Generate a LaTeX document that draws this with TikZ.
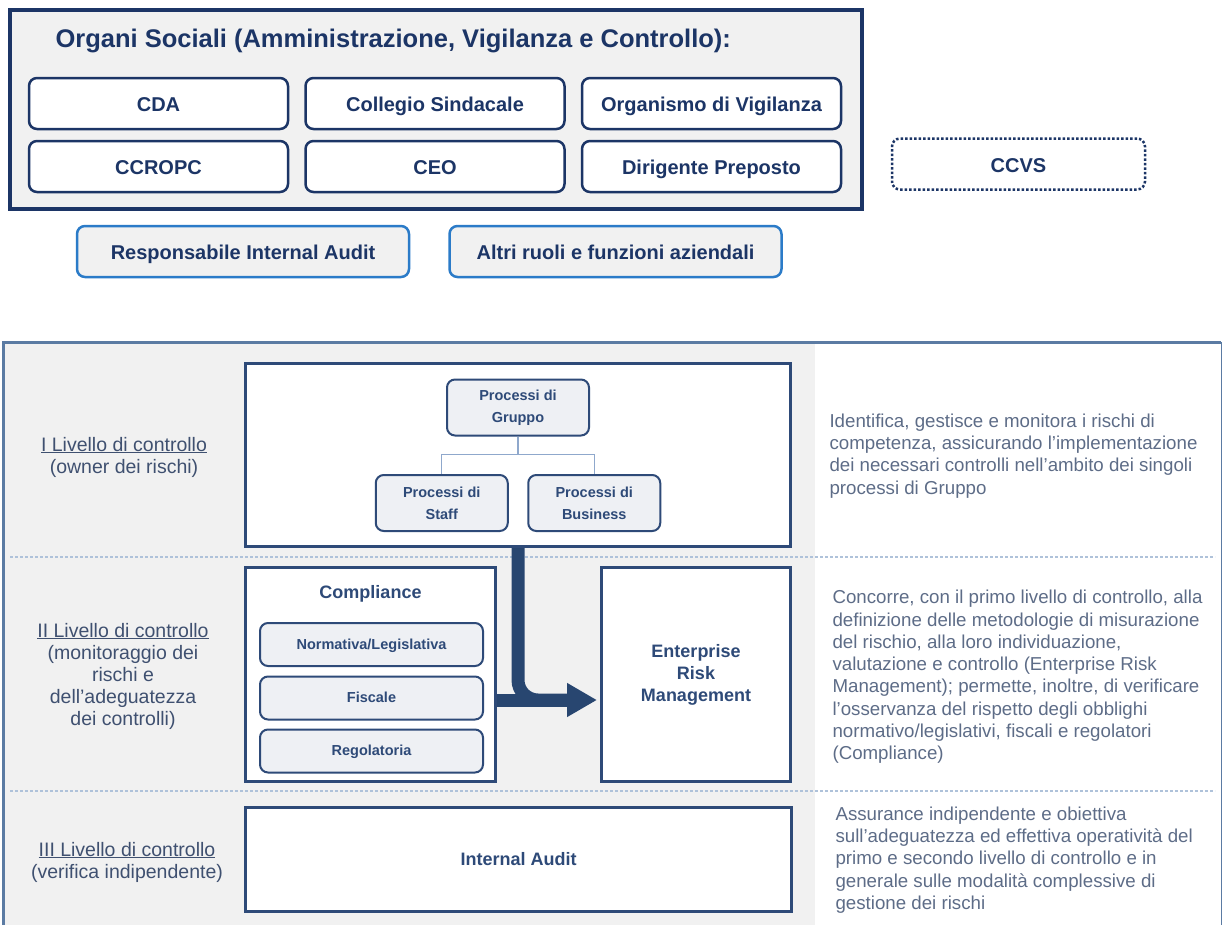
\documentclass[tikz,border=0pt]{standalone}
\usepackage{fontspec}
\setmainfont{Liberation Sans}
\usetikzlibrary{positioning,arrows.meta}

\definecolor{navy}{HTML}{1C3566}
\definecolor{slate}{HTML}{2E4A78}
\definecolor{panelgray}{HTML}{F1F1F1}
\definecolor{auditblue}{HTML}{2B7BC8}
\definecolor{frameblue}{HTML}{5B7BA3}
\definecolor{labeltext}{HTML}{3F5070}
\definecolor{notetext}{HTML}{5D6C87}
\definecolor{procfill}{HTML}{EEF0F4}
\definecolor{sepblue}{HTML}{AFC2DA}
\definecolor{treeline}{HTML}{8FA8CC}
\definecolor{arrowblue}{HTML}{284670}

\begin{document}
\begin{tikzpicture}[x=1pt, y=1pt,
		orgbox/.style = {shape=rectangle, rounded corners=8pt, draw=navy,
			line width=2.5pt, fill=white, minimum width=259pt, minimum height=51pt,
			text height=17.5pt, text depth=1.5pt,
			text=navy, font=\fontsize{20}{24}\selectfont\bfseries},
		rolebox/.style = {orgbox, draw=auditblue, fill=panelgray, minimum width=332pt},
		levelbox/.style = {shape=rectangle, draw=slate, line width=3pt, fill=white,
			text=slate, font=\fontsize{18}{22}\selectfont\bfseries, align=center},
		procbox/.style = {shape=rectangle, rounded corners=8pt, draw=slate,
			line width=2pt, fill=procfill, minimum width=132pt, minimum height=56pt,
			text=slate, align=center, font=\fontsize{14.5}{22}\selectfont\bfseries},
		subbox/.style = {procbox, minimum width=223pt, minimum height=43pt,
			text height=11.5pt, text depth=2pt},
		levellabel/.style = {align=center, text=labeltext,
			font=\fontsize{19.5}{22}\selectfont},
		note/.style = {anchor=west, align=left, text=notetext,
			font=\fontsize{18.7}{22.3}\selectfont},
		sepline/.style = {draw=sepblue, line width=1.2pt, dash pattern=on 3pt off 2pt},
		bigshaft/.style = {draw=arrowblue, line width=13pt},
		bigarrow/.style = {bigshaft, rounded corners=20pt,
			-{Triangle[length=30pt,width=32pt]}}]
	\useasboundingbox (0,0) rectangle (1223,-924);

	% organi sociali
	\node[shape=rectangle, draw=navy, line width=4pt, fill=panelgray,
		minimum width=852pt, minimum height=199pt] (organi) at (435.5,-109.5) {};
	\node[anchor=west, text=navy, font=\fontsize{25.5}{30}\selectfont\bfseries]
		(titolo) at (52,-41) {Organi Sociali (Amministrazione, Vigilanza e Controllo):};
	\node[orgbox] (cda) at (158.5,-103.5) {CDA};
	\node[orgbox, right=15pt of cda] (collegio) {Collegio Sindacale};
	\node[orgbox, right=15pt of collegio] (odv) {Organismo di Vigilanza};
	\node[orgbox] (ccropc) at (158.5,-166.5) {CCROPC};
	\node[orgbox, right=15pt of ccropc] (ceo) {CEO};
	\node[orgbox, right=15pt of ceo] (preposto) {Dirigente Preposto};
	\node[orgbox, dotted, minimum width=253pt] (ccvs) at (1018.5,-164) {CCVS};
	\node[rolebox] (resp) at (243,-251.5) {Responsabile Internal Audit};
	\node[rolebox] (altri) at (615.5,-251.5) {Altri ruoli e funzioni aziendali};

	% livelli di controllo
	\fill[panelgray] (3,-342) rectangle (815,-930);
	\draw[frameblue, line width=3pt] (3,-930) |- (1221,-342);
	\draw[frameblue, line width=1pt] (1221,-342) -- (1221,-930);
	\draw[sepline] (10,-557) -- (1215,-557);
	\draw[sepline] (10,-791) -- (1215,-791);

	\node[levellabel] (lvlonetxt) at (124,-457)
		{\underline{I Livello di controllo}\\(owner dei rischi)};
	\node[levellabel] (lvltwotxt) at (123,-676)
		{\underline{II Livello di controllo}\\(monitoraggio dei\\rischi e\\dell’adeguatezza\\dei controlli)};
	\node[levellabel] (lvlthreetxt) at (127,-862)
		{\underline{III Livello di controllo}\\(verifica indipendente)};

	\node[levelbox, minimum width=545pt, minimum height=183pt] (lvlone) at (518,-455) {};
	\node[procbox, minimum width=142pt] (gruppo) at (518,-407.5) {Processi di\\Gruppo}
		[edge from parent path={(\tikzparentnode.south) -- +(0,-18pt) -| (\tikzchildnode.north)},
		 level distance=95.5pt, sibling distance=152.5pt,
		 edge from parent/.style={draw=treeline, line width=1.2pt}]
		child { node[procbox] (staff) {Processi di\\Staff} }
		child { node[procbox] (business) {Processi di\\Business} };

	\node[levelbox, minimum width=250pt, minimum height=214pt] (compl) at (370.5,-674.5) {};
	\node[text=slate, font=\fontsize{18}{22}\selectfont\bfseries] (compltitle) at (370.5,-594) {Compliance};
	\node[subbox] (normativa) at (371.5,-644.5) {Normativa/Legislativa};
	\node[subbox] (fiscale) at (371.5,-698) {Fiscale};
	\node[subbox] (regolatoria) at (371.5,-751) {Regolatoria};
	\node[levelbox, minimum width=189pt, minimum height=214pt] (erm) at (696,-674.5)
		{Enterprise\\Risk\\Management};
	\node[levelbox, minimum width=546pt, minimum height=104pt] (audit) at (518.5,-859.5)
		{Internal Audit};

	\coordinate (tip) at (597,-700);
	\draw[bigshaft] (compl.east |- tip) -- ([xshift=-25pt]tip);
	\draw[bigarrow] (lvlone.south -| gruppo) |- (tip);

	% descrizioni
	\node[note] (notaone) at (826,-456)
		{Identifica, gestisce e monitora i rischi di\\competenza, assicurando l’implementazione\\dei necessari controlli nell’ambito dei singoli\\processi di Gruppo};
	\node[note] (notatwo) at (829,-677)
		{Concorre, con il primo livello di controllo, alla\\definizione delle metodologie di misurazione\\del rischio, alla loro individuazione,\\valutazione e controllo (Enterprise Risk\\Management); permette, inoltre, di verificare\\l’osservanza del rispetto degli obblighi\\normativo/legislativi, fiscali e regolatori\\(Compliance)};
	\node[note] (notathree) at (832,-860)
		{Assurance indipendente e obiettiva\\sull’adeguatezza ed effettiva operatività del\\primo e secondo livello di controllo e in\\generale sulle modalità complessive di\\gestione dei rischi};
\end{tikzpicture}
\end{document}
